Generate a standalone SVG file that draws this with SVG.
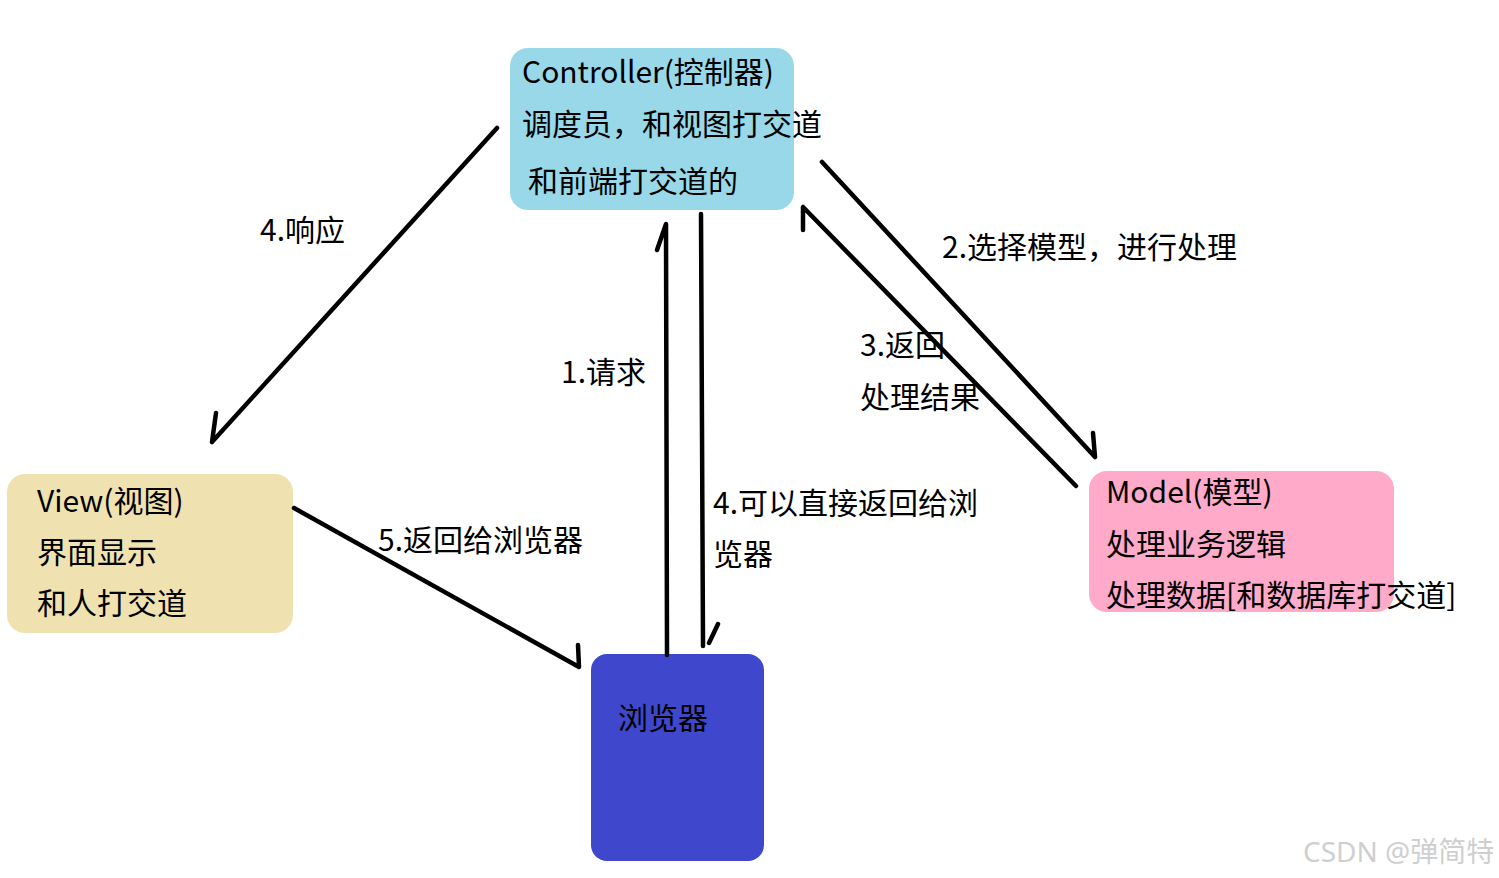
<svg xmlns="http://www.w3.org/2000/svg" width="1499" height="878" viewBox="0 0 1499 878">
<style>
text{font-family:"Microsoft YaHei","Noto Sans CJK SC","Noto Sans",sans-serif;font-size:30px;fill:#000}
.lbl{font-size:30px}
.ln{fill:none;stroke:#000;stroke-width:4.5;stroke-linecap:round;stroke-linejoin:round}
.wm{font-size:28px;fill:#cfcfcf;font-family:"Noto Sans","Noto Sans CJK SC",sans-serif}
</style>
<rect width="1499" height="878" fill="#fff"/>
<g id="controller">
<rect x="510" y="48" width="284" height="162" rx="18" fill="#99D8E9"/>
<text x="522" y="83">Controller(控制器)</text>
<text x="522" y="135">调度员，和视图打交道</text>
<text x="528" y="192">和前端打交道的</text>
</g>
<g id="view">
<rect x="7" y="474" width="286" height="159" rx="18" fill="#EFE2B0"/>
<text x="37" y="512">View(视图)</text>
<text x="37" y="563">界面显示</text>
<text x="37" y="614">和人打交道</text>
</g>
<g id="model">
<rect x="1089" y="471" width="305" height="141" rx="18" fill="#FEAAC8"/>
<text x="1106" y="503">Model(模型)</text>
<text x="1106" y="555">处理业务逻辑</text>
<text x="1106" y="606">处理数据[和数据库打交道]</text>
</g>
<g id="browser">
<rect x="591" y="654" width="173" height="207" rx="16" fill="#3F48CC"/>
<text x="618" y="729">浏览器</text>
</g>
<g id="connectors">
<path class="ln" d="M497,128 L212,442 L216,413"/>
<path class="ln" d="M667,655 L666,224 L657,250"/>
<path class="ln" d="M701,214 L702,430 L703,646 M718,624 L709,643"/>
<path class="ln" d="M822,162 L1095,457 L1093,433"/>
<path class="ln" d="M1076,486 L803,207 L803,230"/>
<path class="ln" d="M294,508 L579,667 L578,645"/>
</g>
<g id="labels">
<text class="lbl" x="260" y="241">4.响应</text>
<text class="lbl" x="561" y="383">1.请求</text>
<text class="lbl" x="942" y="258">2.选择模型，进行处理</text>
<text class="lbl" x="860" y="356">3.返回</text>
<text class="lbl" x="860" y="408">处理结果</text>
<text class="lbl" x="713" y="514">4.可以直接返回给浏</text>
<text class="lbl" x="713" y="565">览器</text>
<text class="lbl" x="378" y="551">5.返回给浏览器</text>
</g>
<text class="wm" x="1303" y="862">CSDN @弹简特</text>
</svg>
